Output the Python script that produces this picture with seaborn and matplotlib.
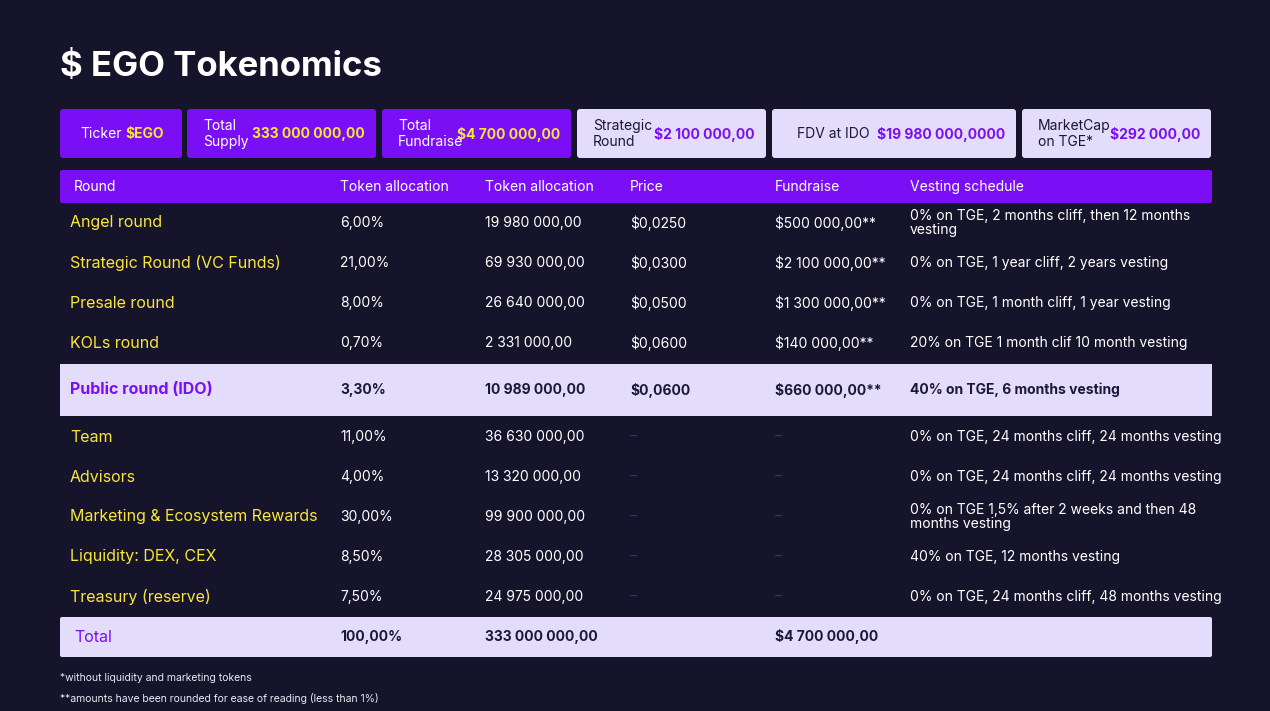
import matplotlib
matplotlib.use("Agg")
import matplotlib.pyplot as plt
from matplotlib.patches import FancyBboxPatch, Rectangle
import seaborn as sns

# ---- data ----
title = "$ EGO Tokenomics"
summary_labels = ["Ticker", "Total\nSupply", "Total\nFundraise", "Strategic\nRound", "FDV at IDO", "MarketCap\non TGE*"]
summary_values = ["$EGO", "333 000 000,00", "$4 700 000,00", "$2 100 000,00", "$19 980 000,0000", "$292 000,00"]
headers = ["Round", "Token allocation", "Token allocation", "Price", "Fundraise", "Vesting schedule"]
rounds = ["Angel round", "Strategic Round (VC Funds)", "Presale round", "KOLs round", "Public round (IDO)",
          "Team", "Advisors", "Marketing & Ecosystem Rewards", "Liquidity: DEX, CEX", "Treasury (reserve)"]
alloc_pct = ["6,00%", "21,00%", "8,00%", "0,70%", "3,30%", "11,00%", "4,00%", "30,00%", "8,50%", "7,50%"]
alloc_tokens = ["19 980 000,00", "69 930 000,00", "26 640 000,00", "2 331 000,00", "10 989 000,00",
                "36 630 000,00", "13 320 000,00", "99 900 000,00", "28 305 000,00", "24 975 000,00"]
prices = ["$0,0250", "$0,0300", "$0,0500", "$0,0600", "$0,0600", "–", "–", "–", "–", "–"]
fundraise = ["$500 000,00**", "$2 100 000,00**", "$1 300 000,00**", "$140 000,00**", "$660 000,00**",
             "–", "–", "–", "–", "–"]
vesting = ["0% on TGE, 2 months cliff, then 12 months\nvesting",
           "0% on TGE, 1 year cliff, 2 years vesting",
           "0% on TGE, 1 month cliff, 1 year vesting",
           "20% on TGE 1 month clif 10 month vesting",
           "40% on TGE, 6 months vesting",
           "0% on TGE, 24 months cliff, 24 months vesting",
           "0% on TGE, 24 months cliff, 24 months vesting",
           "0% on TGE 1,5% after 2 weeks and then 48\nmonths vesting",
           "40% on TGE, 12 months vesting",
           "0% on TGE, 24 months cliff, 48 months vesting"]
total_row = ["Total", "100,00%", "333 000 000,00", "", "$4 700 000,00", ""]
footnotes = ["*without liquidity and marketing tokens",
             "**amounts have been rounded for ease of reading (less than 1%)"]
highlight_row = 4

# ---- style ----
BG = "#16142b"
PURPLE = "#7a0ff5"
LAV = "#e3dcfb"
YELLOW = "#f7e53b"
WHITE = "#ffffff"
DARK = "#1b1838"

sns.set_theme(style="white", rc={"font.family": "Inter", "axes.facecolor": BG, "figure.facecolor": BG})

fig = plt.figure(figsize=(12.7, 7.11), dpi=100)
ax = fig.add_axes([0, 0, 1, 1])
ax.set_xlim(0, 1270)
ax.set_ylim(711, 0)
ax.axis("off")

ax.text(60, 67, title, color=WHITE, fontsize=25, fontweight="bold", va="center")

# summary boxes
box_x = [(60, 182), (187, 376), (382, 571), (577, 766), (772, 1016), (1022, 1211)]
for i, ((x0, x1), lab, val) in enumerate(zip(box_x, summary_labels, summary_values)):
    dark = i < 3
    ax.add_patch(FancyBboxPatch((x0 + 3, 112), x1 - x0 - 6, 43, boxstyle="round,pad=3",
                                fc=PURPLE if dark else LAV, ec="none"))
    lc = WHITE if dark else DARK
    vc = YELLOW if dark else PURPLE
    if i == 0:
        ax.text(80, 134, lab, color=lc, fontsize=10, va="center")
        ax.text(125, 134, val, color=vc, fontsize=10, va="center", fontweight="bold")
    else:
        ax.text(x0 + (16 if i != 4 else 25), 134, lab, color=lc, fontsize=10, va="center", linespacing=1.25)
        ax.text(x1 - 11, 134, val, color=vc, fontsize=10, va="center", ha="right", fontweight="bold")

# header
col_x = [70, 340, 485, 630, 775, 910]
ax.add_patch(FancyBboxPatch((62, 172), 1148, 29, boxstyle="round,pad=2", fc=PURPLE, ec="none"))
for x, h in zip(col_x, headers):
    ax.text(x if x != 70 else 74, 187, h, color=WHITE, fontsize=10, va="center")

# rows
row_y = [223, 263, 303, 343, 390, 437, 477, 517, 557, 597]
ax.add_patch(Rectangle((60, 364), 1152, 52, fc=LAV, ec="none"))
for i, y in enumerate(row_y):
    hl = i == highlight_row
    cells = [rounds[i], alloc_pct[i], alloc_tokens[i], prices[i], fundraise[i], vesting[i]]
    for j, (x, c) in enumerate(zip(col_x, cells)):
        if j == 0:
            color, fs, fw = (PURPLE if hl else YELLOW), 11.5, ("bold" if hl else "normal")
        elif c == "–":
            color, fs, fw = "#3d2a8c", 10, "normal"
        else:
            color, fs, fw = (DARK if hl else WHITE), 10, ("bold" if hl else "normal")
        ax.text(x, y, c, color=color, fontsize=fs, fontweight=fw, va="center", linespacing=0.95)

# total
ax.add_patch(FancyBboxPatch((62, 619), 1148, 36, boxstyle="round,pad=2", fc=LAV, ec="none"))
for j, (x, c) in enumerate(zip(col_x, total_row)):
    if j == 0:
        ax.text(74, 637, c, color=PURPLE, fontsize=11.5, va="center")
    else:
        ax.text(x, 637, c, color=DARK, fontsize=10, fontweight="bold", va="center")

for k, f in enumerate(footnotes):
    ax.text(60, 678 + 20 * k, f, color="#e8e8f0", fontsize=7.5, va="center")

fig.savefig("out.png", dpi=100, facecolor=BG)
